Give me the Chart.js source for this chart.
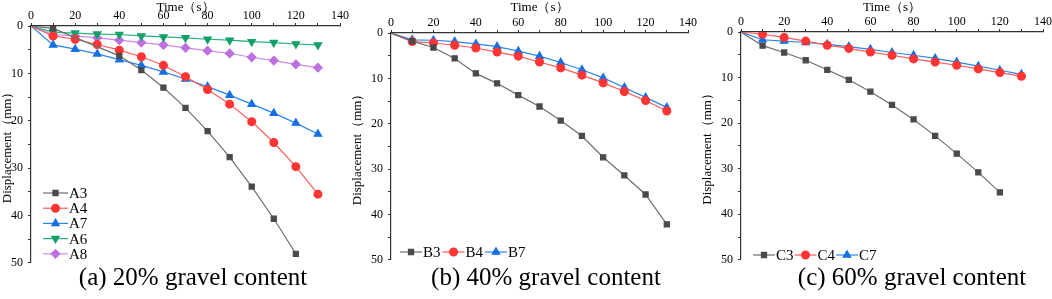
<!DOCTYPE html>
<html lang="en">
<head>
  <meta charset="UTF-8" />
  <title>Displacement vs time</title>
  <style>
    body {
      margin: 0;
      width: 1052px;
      height: 299px;
      background: #fff;
      position: relative;
      overflow: hidden;
      font-family: "Liberation Serif", "Times New Roman", "DejaVu Serif", serif;
    }
    .panel { position: absolute; top: 0; }
    .panel canvas { display: block; }
    .caption {
      position: absolute;
      top: 263px;
      font-size: 25px;
      color: #000;
      white-space: nowrap;
      transform: translateX(-50%);
    }
  </style>
  <script src="https://cdn.jsdelivr.net/npm/chart.js"></script>
</head>
<body>
  <div class="panel" style="left:0px"><canvas id="chartA" width="350" height="275"></canvas></div>
  <div class="panel" style="left:350px"><canvas id="chartB" width="350" height="272"></canvas></div>
  <div class="panel" style="left:700px"><canvas id="chartC" width="352" height="272"></canvas></div>
  <div class="caption" style="left:193px">(a) 20% gravel content</div>
  <div class="caption" style="left:546px">(b) 40% gravel content</div>
  <div class="caption" style="left:912px">(c) 60% gravel content</div>

  <script>
    const times = [0, 10, 20, 30, 40, 50, 60, 70, 80, 90, 100, 110, 120, 130];

    // (a) 20% gravel content
    const A3 = [0, 0.5, null, null, 6.3, 9.3, 13.0, 17.3, 22.2, 27.7, 33.9, 40.7, 48.1, null];
    const A4 = [0, 2.1, 2.8, 3.9, 5.1, 6.5, 8.3, 10.7, 13.4, 16.5, 20.2, 24.6, 29.7, 35.5];
    const A7 = [0, 4.0, 4.9, 5.9, 7.1, 8.3, 9.7, 11.2, 12.8, 14.6, 16.5, 18.4, 20.5, 22.8];
    const A6 = [0, 1.3, 1.5, 1.7, 1.8, 2.1, 2.3, 2.5, 2.8, 3.0, 3.3, 3.5, 3.8, 4.0];
    const A8 = [0, 1.8, 2.1, 2.5, 3.0, 3.5, 4.0, 4.6, 5.2, 5.8, 6.6, 7.3, 8.1, 8.8];

    // (b) 40% gravel content
    const B3 = [0, 1.8, 3.2, 5.6, 8.9, 11.1, 13.7, 16.2, 19.3, 22.7, 27.4, 31.4, 35.6, 42.2];
    const B4 = [0, 1.9, 2.2, 2.7, 3.3, 4.2, 5.1, 6.4, 7.7, 9.3, 11.0, 12.9, 14.9, 17.2];
    const B7 = [0, 1.5, 1.6, 1.9, 2.4, 3.0, 4.0, 5.1, 6.5, 8.1, 9.9, 12.0, 14.2, 16.4];

    // (c) 60% gravel content
    const C3 = [0, 3.0, 4.5, 6.2, 8.3, 10.5, 13.1, 16.0, 19.2, 22.8, 26.7, 30.8, 35.2, null];
    const C4 = [0, 0.5, 1.2, 2.0, 2.9, 3.6, 4.4, 5.1, 5.9, 6.6, 7.3, 8.1, 8.9, 9.7];
    const C7 = [0, 1.7, 2.0, 2.3, 2.7, 3.2, 3.8, 4.5, 5.1, 5.8, 6.6, 7.5, 8.4, 9.3];

    const xTickLabels = [0, 20, 40, 60, 80, 100, 120, 140];
    const yTickLabels = [0, 10, 20, 30, 40, 50];

    const serif = '"Liberation Serif", "Times New Roman", "DejaVu Serif", serif';

    const styles = {
      gray:   { line: '#6e6e6e', fill: '#4a4a4a', shape: 'rect', radius: 3.6, rot: 0 },
      red:    { line: '#ff5a5a', fill: '#ff3535', shape: 'circle', radius: 3.9, rot: 0 },
      blue:   { line: '#2a86ee', fill: '#1670e0', shape: 'triangle', radius: 4.3, rot: 0 },
      green:  { line: '#23b07a', fill: '#12a068', shape: 'triangle', radius: 4.3, rot: 180 },
      purple: { line: '#c98be6', fill: '#bd70e0', shape: 'rectRot', radius: 4.3, rot: 0 }
    };

    function series(label, values, st) {
      const s = styles[st];
      return {
        label: label,
        data: times.map((t, i) => ({ x: t, y: values[i] })),
        borderColor: s.line,
        backgroundColor: s.fill,
        pointBackgroundColor: values.map((v, i) => i === 0 ? 'rgba(0,0,0,0)' : s.fill),
        pointBorderColor: values.map((v, i) => i === 0 ? 'rgba(0,0,0,0)' : s.fill),
        pointStyle: s.shape,
        pointRotation: s.rot,
        pointRadius: s.radius,
        borderWidth: 1.2,
        spanGaps: true,
        tension: 0
      };
    }

    // legend drawn as line + marker + label like the original figure
    const figLegend = {
      id: 'figLegend',
      afterDraw(chart, args, opts) {
        const ctx = chart.ctx;
        const area = chart.chartArea;
        ctx.save();
        ctx.font = '15px ' + serif;
        ctx.textBaseline = 'middle';
        chart.data.datasets.forEach((ds, i) => {
          const x0 = area.left + opts.x + i * opts.dx;
          const y0 = area.top + opts.y + i * opts.dy;
          ctx.strokeStyle = ds.borderColor;
          ctx.lineWidth = 1.2;
          ctx.beginPath();
          ctx.moveTo(x0, y0);
          ctx.lineTo(x0 + opts.len, y0);
          ctx.stroke();
          ctx.fillStyle = ds.backgroundColor;
          ctx.strokeStyle = ds.backgroundColor;
          Chart.helpers.drawPoint(ctx, {
            pointStyle: ds.pointStyle,
            radius: ds.pointRadius,
            rotation: ds.pointRotation,
            borderWidth: 1
          }, x0 + opts.len / 2, y0);
          ctx.fillStyle = '#000';
          ctx.fillText(ds.label, x0 + opts.len + 1, y0 + 1);
        });
        ctx.restore();
      }
    };

    function makeChart(id, datasets, legendOpts, box) {
      const tickFont = { family: serif, size: 12 };
      return new Chart(document.getElementById(id), {
        type: 'line',
        data: { datasets: datasets },
        plugins: [figLegend],
        options: {
          responsive: false,
          animation: false,
          events: [],
          layout: { padding: { left: 0, right: box.right, top: 0, bottom: 0 } },
          plugins: {
            legend: { display: false },
            tooltip: { enabled: false },
            figLegend: legendOpts
          },
          scales: {
            x: {
              type: 'linear',
              position: 'top',
              min: 0,
              max: 140,
              afterFit: s => { s.height = box.top; },
              afterBuildTicks: s => {
                const ticks = [];
                for (let v = 0; v <= 140; v += 10) ticks.push({ value: v });
                s.ticks = ticks;
              },
              ticks: {
                font: tickFont,
                color: '#000',
                padding: 0,
                maxRotation: 0,
                autoSkip: false,
                callback: v => xTickLabels.includes(v) ? String(v) : ''
              },
              grid: { drawOnChartArea: false, tickLength: 3, color: '#333' },
              border: { color: '#333', width: 1.2 },
              title: {
                display: true,
                text: 'Time（s）',
                font: { family: serif, size: 13 },
                color: '#000',
                padding: { top: 0, bottom: -3 }
              }
            },
            y: {
              min: 0,
              max: 50,
              reverse: true,
              afterFit: s => { s.width = box.left; },
              afterBuildTicks: s => {
                const ticks = [];
                for (let v = 0; v <= 50; v += 5) ticks.push({ value: v });
                s.ticks = ticks;
              },
              ticks: {
                font: tickFont,
                color: '#000',
                padding: 5,
                autoSkip: false,
                callback: v => yTickLabels.includes(v) ? String(v) : ''
              },
              grid: { drawOnChartArea: false, tickLength: 3, color: '#333' },
              border: { color: '#333', width: 1.2 },
              title: {
                display: true,
                text: 'Displacement（mm）',
                font: { family: serif, size: 13 },
                color: '#000',
                padding: 0
              }
            }
          }
        }
      });
    }

    makeChart('chartA', [
      series('A3', A3, 'gray'),
      series('A4', A4, 'red'),
      series('A7', A7, 'blue'),
      series('A6', A6, 'green'),
      series('A8', A8, 'purple')
    ], { x: 12, y: 167, dx: 0, dy: 15.2, len: 25 },
       { left: 31, top: 26, right: 10 });

    makeChart('chartB', [
      series('B3', B3, 'gray'),
      series('B4', B4, 'red'),
      series('B7', B7, 'blue')
    ], { x: 9, y: 219, dx: 42.5, dy: 0, len: 22 },
       { left: 41, top: 33, right: 12 });

    makeChart('chartC', [
      series('C3', C3, 'gray'),
      series('C4', C4, 'red'),
      series('C7', C7, 'blue')
    ], { x: 12, y: 223, dx: 41.5, dy: 0, len: 22 },
       { left: 41, top: 32, right: 9 });
  </script>
</body>
</html>
